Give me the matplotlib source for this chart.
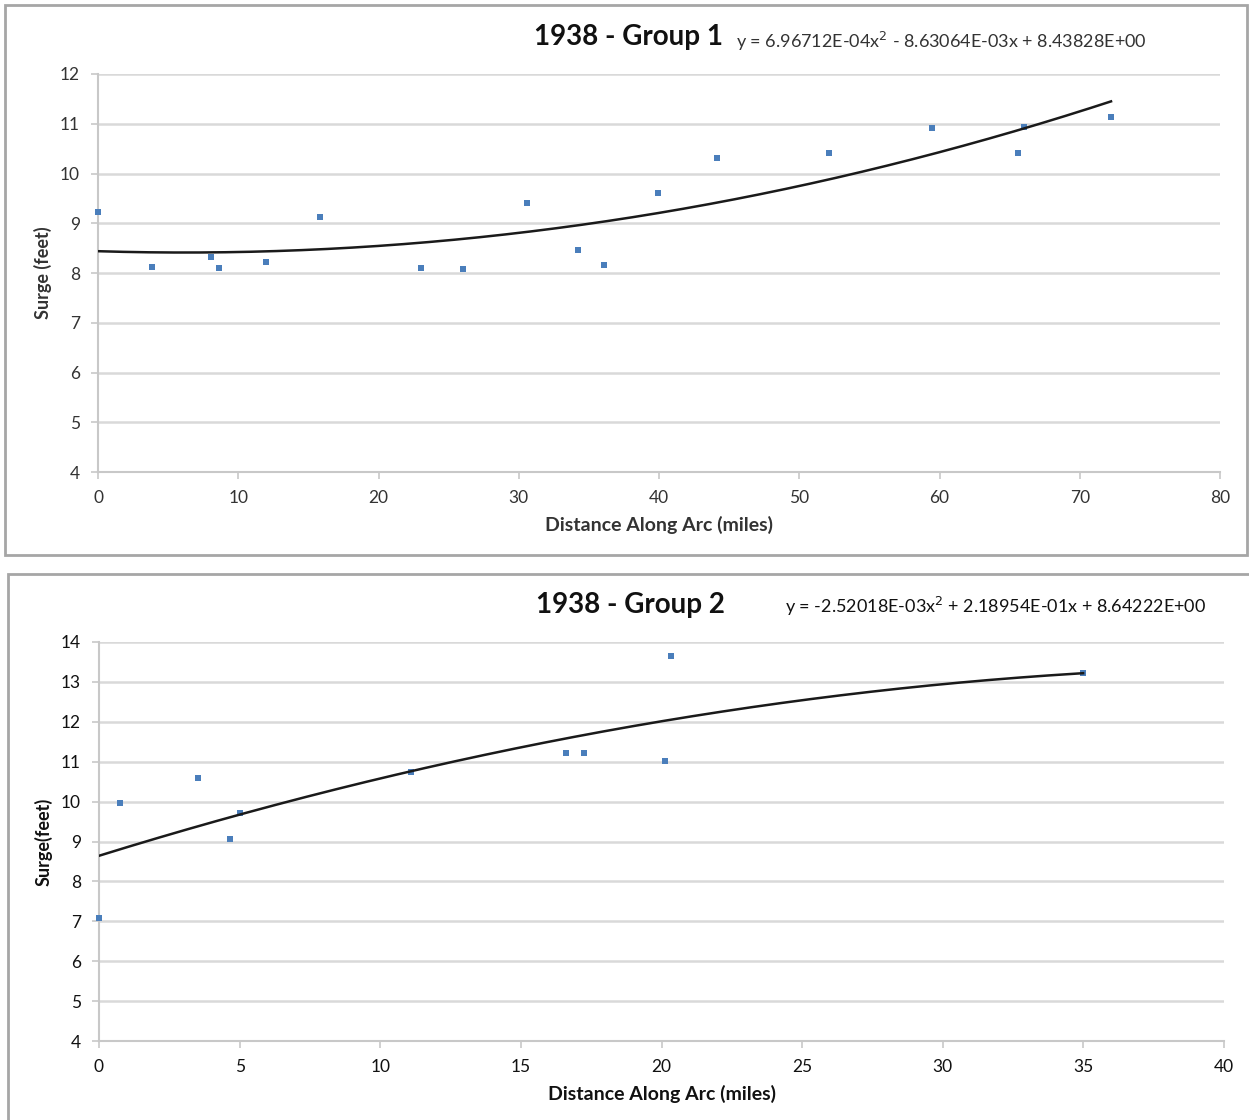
import matplotlib.pyplot as plt
import numpy as np
from matplotlib.patches import Rectangle

# Surge readings along the arc, 1938 storm
g1_dist = [0.0, 3.85, 8.06, 8.63, 11.98, 15.83, 23.03, 26.02, 30.59, 34.22,
           36.08, 39.93, 44.13, 52.12, 59.47, 65.60, 66.03, 72.23]
g1_surge = [9.23, 8.12, 8.32, 8.10, 8.22, 9.13, 8.10, 8.08, 9.41, 8.46,
            8.16, 9.61, 10.31, 10.41, 10.91, 10.41, 10.93, 11.14]
g1_coef = [6.96712e-04, -8.63064e-03, 8.43828e+00]

g2_dist = [0.0, 0.75, 3.52, 4.66, 5.01, 11.09, 16.60, 17.24, 20.12, 20.34, 34.99]
g2_surge = [7.08, 9.97, 10.59, 9.06, 9.71, 10.74, 11.22, 11.22, 11.02, 13.65, 13.22]
g2_coef = [-2.52018e-03, 2.18954e-01, 8.64222e+00]

FONT = "Lato"
MARKER_COLOR = "#4a7ebb"
GRID_COLOR = "#d9d9d9"


def eq_text(c):
    def fmt(v):
        m, e = f"{v:.5E}".split("E")
        return f"{m}E{int(e):+03d}"
    s = f"y = {fmt(c[0])}x$^2$"
    s += f" {'-' if c[1] < 0 else '+'} {fmt(abs(c[1]))}x"
    s += f" {'-' if c[2] < 0 else '+'} {fmt(abs(c[2]))}"
    return s


def draw_panel(fig, rect, dist, surge, coef, ylim, xlim, xstep, title,
               ylabel, title_xy, eq_xy, color):
    ax = fig.add_axes(rect)
    ax.scatter(dist, surge, marker="s", s=24, color=MARKER_COLOR, zorder=3,
               linewidths=0, clip_on=False)
    xs = np.linspace(0, max(dist), 200)
    ax.plot(xs, np.polyval(coef, xs), color="#1a1a1a", lw=1.8, zorder=4)

    ax.set_xlim(*xlim)
    ax.set_ylim(*ylim)
    ax.set_xticks(np.arange(xlim[0], xlim[1] + 1, xstep))
    ax.set_yticks(np.arange(ylim[0], ylim[1] + 1, 1))
    ax.yaxis.grid(True, color=GRID_COLOR, lw=1.8)
    ax.set_axisbelow(True)
    for side in ("top", "right"):
        ax.spines[side].set_visible(False)
    for side in ("left", "bottom"):
        ax.spines[side].set_color("#c8c8c8")
        ax.spines[side].set_linewidth(1.5)
    ax.tick_params(axis="both", length=5, width=1.2, color="#c8c8c8",
                   labelsize=12.5, labelcolor=color, pad=8)
    for lab in ax.get_xticklabels() + ax.get_yticklabels():
        lab.set_fontfamily(FONT)
    ax.set_xlabel("Distance Along Arc (miles)", fontsize=14, fontweight="bold",
                  family=FONT, color=color, labelpad=7)
    ax.set_ylabel(ylabel, fontsize=13, fontweight="bold", family=FONT,
                  color=color, labelpad=6)

    fig.text(title_xy[0], title_xy[1], title, fontsize=20, fontweight="bold",
             family=FONT, ha="center", va="center", color="#111111")
    fig.text(eq_xy[0], eq_xy[1], eq_text(coef), fontsize=13, family=FONT,
             ha="left", va="center", color=color)
    return ax


fig = plt.figure(figsize=(12.49, 11.2), dpi=100)
W, H = 1249, 1120

# panel frames
fig.patches.append(Rectangle((5 / W, 1 - 555 / H), 1242 / W, 550 / H,
                             transform=fig.transFigure, fill=False,
                             edgecolor="#a6a6a6", lw=2))
fig.patches.append(Rectangle((8 / W, 1 - 1122 / H), 1245 / W, 548 / H,
                             transform=fig.transFigure, fill=False,
                             edgecolor="#a6a6a6", lw=2))

draw_panel(fig, [98 / W, 1 - 472 / H, 1122 / W, 398 / H],
           g1_dist, g1_surge, g1_coef, (4, 12), (0, 80), 10,
           "1938 - Group 1", "Surge (feet)",
           (628 / W, 1 - 37 / H), (736 / W, 1 - 41 / H), "#333333")

draw_panel(fig, [99 / W, 1 - 1041 / H, 1125 / W, 399 / H],
           g2_dist, g2_surge, g2_coef, (4, 14), (0, 40), 5,
           "1938 - Group 2", "Surge(feet)",
           (630 / W, 1 - 605 / H), (785 / W, 1 - 606 / H), "#111111")

fig.savefig("out.png", dpi=100)
